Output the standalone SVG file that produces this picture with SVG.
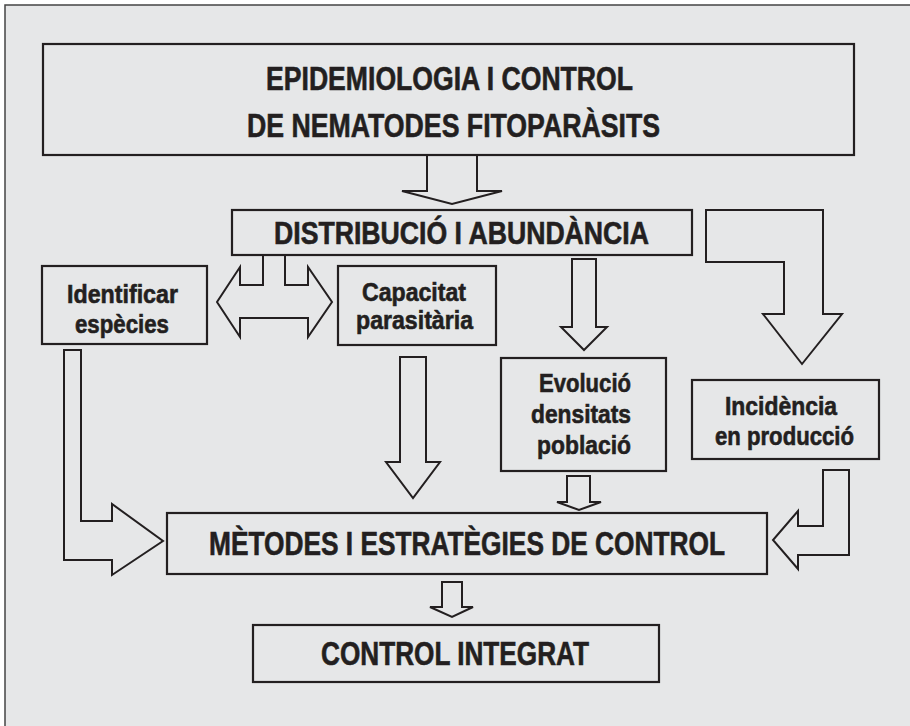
<svg xmlns="http://www.w3.org/2000/svg" width="910" height="726" viewBox="0 0 910 726">
<style>
.box{fill:none;stroke:#231f20;stroke-width:2.2}
.arr{fill:#e6e7e8;stroke:#231f20;stroke-width:2;stroke-linejoin:miter}
.arro{fill:none;stroke:#231f20;stroke-width:2;stroke-linejoin:miter}
text{font-family:"Liberation Sans Narrow","Liberation Sans",Arial,sans-serif;font-weight:bold;fill:#231f20;stroke:#231f20;stroke-width:0.6}
.big{font-size:33px}
.mid{font-size:31px}
.sm{font-size:26px}
</style>
<rect width="910" height="726" fill="#ffffff"/>
<rect x="5" y="5" width="930" height="750" fill="#e6e7e8" stroke="#444" stroke-width="1.5"/>

<g id="connectors">
<path class="arro" d="M427,155 V191 H402 L452,204 L502,191 H477 V155"/>
<path class="arro" d="M263,255 V285 H240 V267 L217,302 L240,337 V318 H308 V337 L332,302 L308,267 V285 H285 V255"/>
<polygon class="arr" points="572,259 596,259 596,327 607,327 584,350 561,327 572,327"/>
<polygon class="arr" points="706,210 823,210 823,314 842,314 802,364 763,314 784,314 784,262 706,262"/>
<polygon class="arr" points="64,350 81,350 81,521 112,521 112,504 163,541 112,575 112,560 64,560"/>
<polygon class="arr" points="400,357 426,357 426,462 440,462 413,498 386,462 400,462"/>
<polygon class="arr" points="567,476 590,476 590,502 601,502 579,510 557,502 567,502"/>
<polygon class="arr" points="823,470 849,470 849,555 798,555 798,569 773,540 798,511 798,526 823,526"/>
<polygon class="arr" points="442,582 462,582 462,607 473,607 452,617 430,607 442,607"/>
</g>

<g id="n-epidemiologia">
<rect class="box" x="43" y="44" width="811" height="111"/>
<text class="big" x="266" y="90" textLength="367" lengthAdjust="spacingAndGlyphs">EPIDEMIOLOGIA I CONTROL</text>
<text class="big" x="247" y="137" textLength="413" lengthAdjust="spacingAndGlyphs">DE NEMATODES FITOPARÀSITS</text>
</g>

<g id="n-distribucio">
<rect class="box" x="232" y="210" width="460" height="45"/>
<text class="mid" x="274" y="244" textLength="375" lengthAdjust="spacingAndGlyphs">DISTRIBUCIÓ I ABUNDÀNCIA</text>
</g>

<g id="n-identificar">
<rect class="box" x="42" y="266" width="165" height="78"/>
<text class="sm" x="67" y="303" textLength="111" lengthAdjust="spacingAndGlyphs">Identificar</text>
<text class="sm" x="75" y="333" textLength="94" lengthAdjust="spacingAndGlyphs">espècies</text>
</g>

<g id="n-capacitat">
<rect class="box" x="338" y="266" width="158" height="79"/>
<text class="sm" x="362" y="301" textLength="104" lengthAdjust="spacingAndGlyphs">Capacitat</text>
<text class="sm" x="356" y="329" textLength="117" lengthAdjust="spacingAndGlyphs">parasitària</text>
</g>

<g id="n-evolucio">
<rect class="box" x="501" y="358" width="165" height="113"/>
<text class="sm" x="539" y="392" textLength="92" lengthAdjust="spacingAndGlyphs">Evolució</text>
<text class="sm" x="531" y="423" textLength="100" lengthAdjust="spacingAndGlyphs">densitats</text>
<text class="sm" x="537" y="454" textLength="94" lengthAdjust="spacingAndGlyphs">població</text>
</g>

<g id="n-incidencia">
<rect class="box" x="692" y="380" width="187" height="79"/>
<text class="sm" x="725" y="415" textLength="112" lengthAdjust="spacingAndGlyphs">Incidència</text>
<text class="sm" x="715" y="445" textLength="139" lengthAdjust="spacingAndGlyphs">en producció</text>
</g>

<g id="n-metodes">
<rect class="box" x="167" y="513" width="600" height="61"/>
<text class="big" x="209" y="555" textLength="516" lengthAdjust="spacingAndGlyphs">MÈTODES I ESTRATÈGIES DE CONTROL</text>
</g>

<g id="n-control">
<rect class="box" x="253" y="625" width="406" height="57"/>
<text class="big" x="321" y="665" textLength="268" lengthAdjust="spacingAndGlyphs">CONTROL INTEGRAT</text>
</g>
</svg>
